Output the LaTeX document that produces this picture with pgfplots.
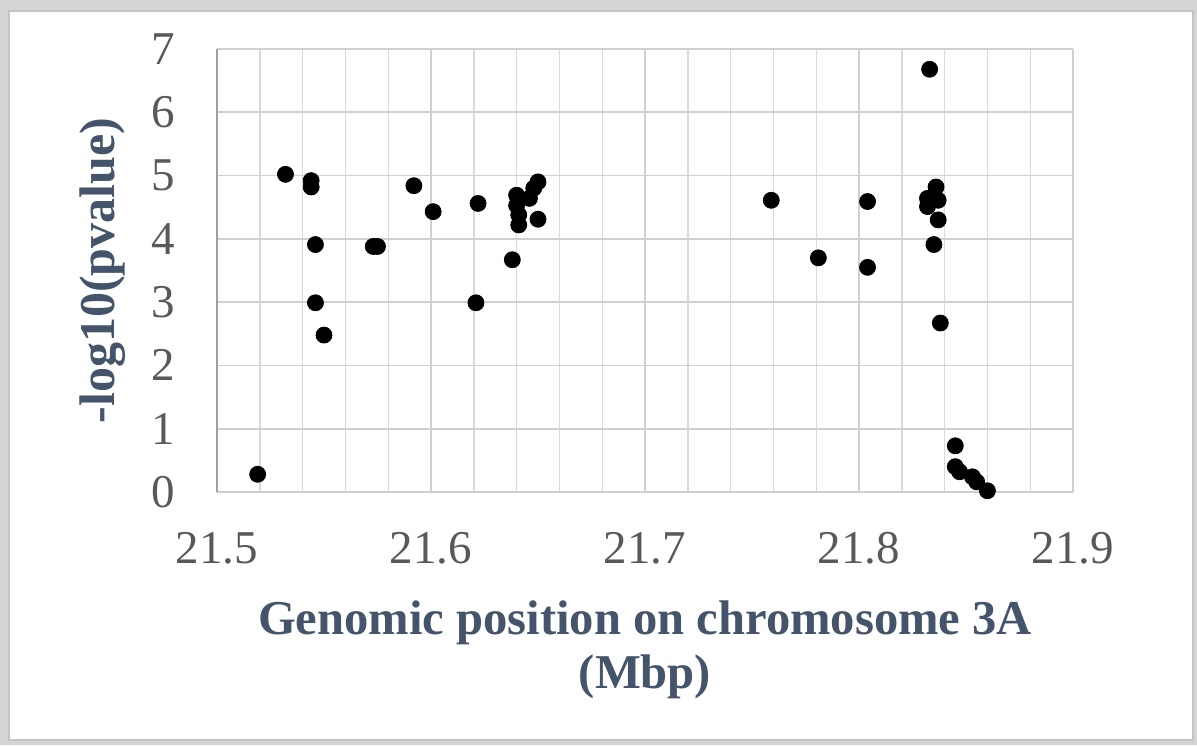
\documentclass[border=0pt]{standalone}
\usepackage{pgfplots}
\pgfplotsset{compat=1.18}
\usepackage{fontspec}
\setmainfont{Liberation Serif}

\definecolor{gridgray}{HTML}{D9D9D9}
\definecolor{majgray}{HTML}{D0D0D0}
\definecolor{ticktext}{HTML}{595959}
\definecolor{labeltext}{HTML}{44546A}
\definecolor{framegray}{HTML}{D4D4D4}
\definecolor{edgegray}{HTML}{C4C4C4}

\begin{document}
\begin{tikzpicture}
  % card background with a soft grey frame
  \fill[framegray] (0,0) rectangle (598.5pt,372.5pt);
  \filldraw[fill=white, draw=edgegray, line width=0.8pt] (4.5pt,2.5pt) rectangle (596.5pt,367pt);

  \begin{axis}[
    at={(108.5pt,126.5pt)}, anchor=south west,
    scale only axis, width=428pt, height=221.5pt,
    xmin=21.5, xmax=21.9, ymin=0, ymax=7,
    xtick={21.5,21.6,21.7,21.8,21.9},
    ytick={0,1,...,7},
    minor x tick num=4,
    grid=both,
    major grid style={draw=majgray, line width=0.8pt},
    minor grid style={draw=gridgray, line width=0.7pt},
    axis x line*=bottom, axis y line*=left,
    x axis line style={-, draw=gridgray!80!black!60, line width=1pt},
    y axis line style={-, draw=gray!75, line width=1.1pt},
    major tick length=0pt, minor tick length=0pt,
    tick style={draw=none},
    /pgf/number format/assume math mode=true,
    /pgf/number format/.cd, fixed, precision=1, /pgfplots/.cd,
    ticklabel style={font=\fontsize{23.5}{26}\selectfont, text=ticktext, inner sep=0pt},
    xticklabel style={yshift=-20pt},
    yticklabel style={xshift=-21pt},
    xlabel={Genomic position on chromosome 3A\\(Mbp)},
    xlabel style={at={(axis description cs:0.5,0)}, anchor=north, yshift=-54pt,
      align=center, inner sep=0pt,
      font=\fontsize{24.3}{27}\selectfont\bfseries, text=labeltext},
    ylabel={-log10(pvalue)},
    ylabel style={at={(axis description cs:-0.106,0.5)}, anchor=south,
      inner sep=0pt,
      font=\fontsize{25}{27}\selectfont\bfseries, text=labeltext},
    clip=false,
  ]
    \addplot[only marks, mark=*, mark size=4pt, black] coordinates {
      (21.519,0.28) (21.532,5.02) (21.544,4.92) (21.544,4.82)
      (21.546,3.91) (21.546,2.99) (21.550,2.48) (21.573,3.88)
      (21.575,3.88) (21.592,4.84) (21.601,4.43) (21.621,2.99)
      (21.622,4.56) (21.638,3.67) (21.640,4.69) (21.640,4.53)
      (21.641,4.38) (21.641,4.22) (21.646,4.64) (21.648,4.80)
      (21.650,4.90) (21.650,4.31) (21.759,4.61) (21.781,3.70)
      (21.804,4.59) (21.804,3.55) (21.833,6.68) (21.836,4.82)
      (21.832,4.64) (21.837,4.61) (21.832,4.51) (21.837,4.30)
      (21.835,3.91) (21.838,2.67) (21.845,0.73) (21.845,0.40)
      (21.847,0.32) (21.853,0.24) (21.855,0.16) (21.860,0.02)
    };
  \end{axis}
\end{tikzpicture}
\end{document}
